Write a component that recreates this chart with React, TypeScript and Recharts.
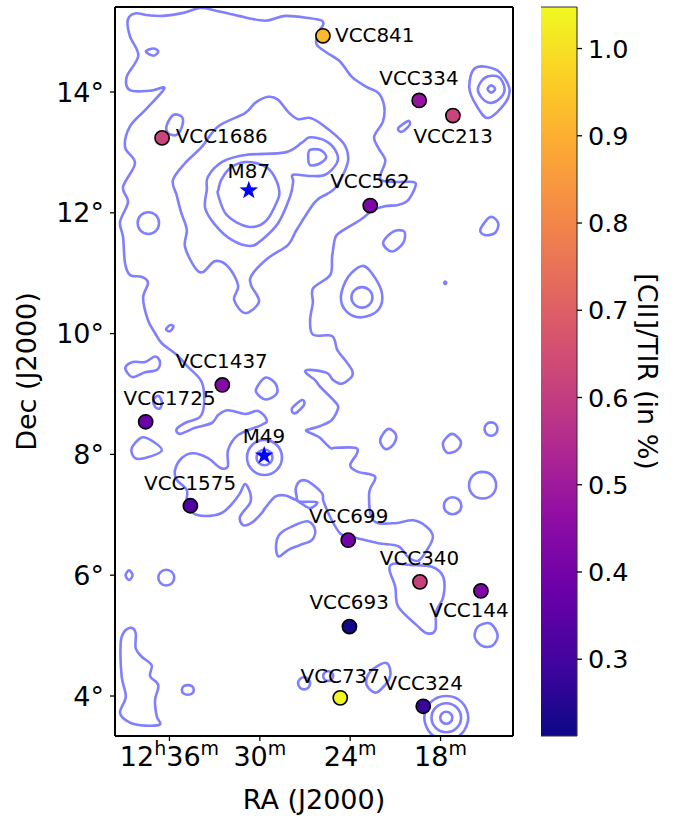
import React from 'react';
import { ComposedChart, XAxis, YAxis, Line, Area, Scatter, Label } from 'recharts';

// ---------- ticks ----------
const raTicks = [36, 30, 24, 18];
const decTicks = [4, 6, 8, 10, 12, 14];
const colorTicks = [0.3, 0.4, 0.5, 0.6, 0.7, 0.8, 0.9, 1.0];

// ---------- galaxies ----------
const galaxyNames = ['VCC841', 'VCC334', 'VCC213', 'VCC1686', 'VCC562', 'VCC1437', 'VCC1725', 'VCC1575', 'VCC699', 'VCC340', 'VCC144', 'VCC693', 'VCC737', 'VCC324'];
const galaxyRa = [25.81, 19.42, 17.18, 36.49, 22.67, 32.49, 37.58, 34.61, 24.13, 19.37, 15.32, 24.05, 24.66, 19.15];
const galaxyDec = [14.93, 13.86, 13.61, 13.24, 12.12, 9.15, 8.54, 7.15, 6.58, 5.89, 5.74, 5.15, 3.97, 3.83];
const galaxyRatio = [0.92, 0.48, 0.62, 0.62, 0.42, 0.44, 0.38, 0.33, 0.4, 0.61, 0.42, 0.225, 1.04, 0.28];

const starNames = ['M87', 'M49'];
const starRa = [30.73, 29.71];
const starDec = [12.37, 7.98];

const labelNames = ['VCC841', 'VCC334', 'VCC213', 'VCC1686', 'M87', 'VCC562', 'VCC1437', 'VCC1725', 'M49', 'VCC1575', 'VCC699', 'VCC340', 'VCC144', 'VCC693', 'VCC737', 'VCC324'];
const labelRa = [22.37, 19.43, 17.16, 32.53, 30.73, 22.69, 32.53, 35.99, 29.73, 34.63, 24.1, 19.4, 16.11, 24.07, 24.66, 19.15];
const labelDec = [14.94, 14.23, 13.27, 13.26, 12.69, 12.51, 9.54, 8.93, 8.3, 7.52, 6.97, 6.28, 5.41, 5.55, 4.33, 4.21];

// ---------- contours, [RA minutes, Dec degrees] ----------
const outer = [[38.77,15.19],[38.29,15.30],[37.40,15.27],[36.41,15.26],[35.08,15.31],[33.97,15.39],[32.97,15.35],[31.42,15.26],[29.65,15.18],[28.32,15.26],[26.66,15.22],[25.88,15.18],[25.80,15.11],[25.99,15.04],[26.21,14.92],[26.21,14.78],[25.55,14.65],[24.66,14.50],[23.89,14.25],[22.89,14.08],[22.12,13.98],[21.74,13.76],[21.83,13.51],[22.41,13.26],[22.12,13.07],[21.67,12.87],[21.96,12.65],[21.94,12.54],[21.01,12.51],[19.81,12.51],[19.68,12.43],[20.15,12.21],[20.81,12.13],[21.67,12.11],[22.47,12.05],[23.34,11.88],[24.66,11.68],[25.00,11.58],[25.20,11.27],[25.33,10.97],[26.46,10.75],[26.48,10.51],[26.66,10.22],[26.46,9.98],[25.20,9.96],[24.86,9.73],[24.33,9.56],[23.89,9.40],[23.89,9.29],[24.55,9.17],[25.13,9.23],[25.55,9.35],[26.66,9.40],[26.99,9.38],[26.86,9.33],[26.33,9.23],[25.99,9.12],[25.00,8.87],[24.80,8.77],[25.22,8.57],[25.99,8.47],[26.66,8.42],[26.92,8.39],[26.33,8.32],[25.99,8.27],[25.33,8.11],[25.00,8.11],[23.67,8.11],[23.54,8.02],[24.00,7.82],[23.47,7.71],[22.34,7.63],[22.74,7.36],[22.47,6.91],[21.14,6.86],[19.81,6.91],[18.91,6.80],[18.51,6.64],[18.82,6.45],[19.48,6.24],[20.15,6.30],[20.81,6.48],[22.14,6.53],[23.67,6.62],[24.13,6.64],[24.66,6.69],[25.22,6.91],[25.77,7.22],[25.88,7.36],[26.77,7.55],[27.32,7.56],[27.61,7.44],[27.56,7.31],[27.39,7.22],[26.21,7.21],[26.66,7.11],[27.26,7.19],[27.66,7.25],[28.32,7.32],[28.98,7.30],[29.65,7.11],[29.87,7.03],[30.53,6.87],[31.11,6.83],[31.31,6.97],[30.64,7.20],[30.64,7.36],[30.98,7.51],[31.31,7.36],[31.78,7.20],[32.53,7.03],[33.63,6.98],[34.43,7.03],[34.85,7.20],[34.85,7.41],[35.52,7.58],[35.63,7.74],[35.18,7.94],[34.43,8.02],[33.44,7.94],[32.64,7.78],[32.13,7.80],[32.11,8.07],[31.44,8.32],[29.87,8.49],[29.54,8.57],[30.11,8.72],[30.98,8.67],[32.11,8.73],[32.77,8.65],[33.19,8.52],[34.30,8.44],[35.30,8.34],[35.52,8.42],[34.97,8.52],[33.97,8.62],[33.70,8.85],[33.86,9.20],[34.77,9.45],[35.52,9.65],[36.51,9.84],[36.96,10.01],[37.42,10.22],[37.75,10.59],[37.42,10.84],[37.84,10.94],[38.62,10.97],[38.95,11.17],[39.08,11.60],[39.28,11.85],[38.75,12.18],[39.08,12.43],[38.29,12.82],[38.95,13.09],[38.62,13.43],[37.62,13.70],[36.34,14.06],[37.29,14.02],[38.62,14.03],[38.84,14.25],[38.07,14.60],[38.62,14.92]];
const virgoMid = [[35.77,12.54],[35.52,12.29],[35.23,12.01],[34.85,11.72],[34.97,11.44],[34.30,11.09],[33.77,11.02],[32.97,11.20],[32.11,11.11],[31.44,10.80],[31.71,10.56],[30.98,10.34],[30.05,10.53],[30.58,10.80],[30.53,10.97],[29.45,11.25],[28.12,11.47],[27.55,11.72],[26.33,12.18],[25.55,12.31],[25.00,12.41],[24.33,12.71],[24.13,12.92],[24.47,13.16],[25.80,13.45],[26.66,13.57],[27.46,13.55],[28.12,13.67],[28.78,13.87],[29.45,13.92],[30.31,13.82],[30.98,13.65],[32.77,13.43],[33.86,13.09],[34.97,12.82]];
const virgoHigh = [[33.52,12.38],[33.44,12.60],[32.44,12.85],[30.86,12.96],[28.32,13.00],[27.21,13.16],[26.66,13.25],[25.55,13.18],[24.89,12.99],[24.89,12.82],[25.66,12.63],[26.66,12.61],[27.79,12.63],[27.79,12.51],[27.99,12.27],[28.78,11.83],[29.87,11.55],[30.64,11.45],[31.86,11.55],[32.97,11.80],[33.63,12.08]];
const virgoCore = [[32.75,12.38],[32.57,12.54],[31.97,12.74],[30.98,12.84],[29.85,12.79],[29.18,12.66],[28.72,12.38],[28.87,12.18],[29.65,11.85],[30.78,11.77],[32.19,11.96],[32.77,12.30]];
const virgoSide = [[26.66,13.04],[25.99,13.04],[25.59,12.93],[25.99,12.82],[26.66,12.79],[26.79,12.93]];
const islandA = [[37.56,14.67],[37.07,14.72],[36.74,14.67],[37.07,14.60]];
const islandB = [[36.18,13.45],[35.74,13.62],[35.18,13.59],[35.14,13.45],[35.52,13.29],[36.09,13.32]];
const islandC = [[20.81,13.40],[20.15,13.52],[20.06,13.45],[20.57,13.34]];
const eastOuter = [[16.09,14.07],[15.69,14.40],[14.25,14.36],[13.44,14.07],[13.70,13.82],[14.83,13.57],[15.58,13.76]];
const eastMid = [[15.52,14.06],[15.03,14.24],[14.15,14.25],[13.75,14.06],[14.03,13.90],[14.70,13.82],[15.25,13.90]];
const eastCore = [[14.88,14.05],[14.63,14.11],[14.38,14.05],[14.63,13.99]];
const islandD = [[38.11,11.83],[37.90,11.96],[37.40,12.01],[36.90,11.96],[36.69,11.83],[36.90,11.70],[37.40,11.65],[37.90,11.70]];
const islandE = [[36.23,10.07],[35.96,10.14],[35.73,10.12],[35.96,10.04]];
const islandF = [[38.91,9.45],[38.42,9.53],[37.62,9.53],[36.96,9.62],[36.63,9.53],[36.83,9.40],[37.62,9.36],[38.42,9.28],[38.82,9.36]];
const islandG = [[21.81,11.50],[21.14,11.69],[20.41,11.69],[20.48,11.50],[21.23,11.36]];
const islandH = [[15.36,11.72],[14.70,11.93],[14.17,11.83],[14.37,11.67],[15.03,11.63]];
const midOuter = [[23.22,11.12],[22.56,11.00],[21.89,10.67],[22.14,10.39],[23.22,10.27],[24.22,10.36],[24.62,10.61],[24.13,10.94]];
const midCore = [[23.92,10.60],[23.71,10.72],[23.22,10.77],[22.73,10.72],[22.52,10.60],[22.73,10.48],[23.22,10.43],[23.71,10.48]];
const speck = [[17.76,10.84],[17.69,10.86],[17.62,10.84],[17.69,10.82]];
const islandI = [[30.25,9.08],[29.65,9.27],[28.98,9.18],[28.87,9.01],[29.54,8.91],[30.09,8.98]];
const islandJ = [[27.87,8.76],[27.21,8.90],[27.06,8.82],[27.66,8.68]];
const islandK = [[37.07,8.90],[36.74,8.97],[36.51,8.87],[36.63,8.76],[36.96,8.79]];
const islandL = [[38.51,8.10],[37.84,8.28],[37.07,8.21],[36.51,8.06],[37.62,7.94],[38.29,7.94]];
const m49Outer = [[30.85,7.95],[30.51,8.155],[29.69,8.24],[28.87,8.155],[28.53,7.95],[28.87,7.745],[29.69,7.66],[30.51,7.745]];
const m49Core = [[30.22,7.95],[30.07,8.04],[29.69,8.08],[29.31,8.04],[29.16,7.95],[29.31,7.86],[29.69,7.82],[30.07,7.86]];
const islandM = [[28.76,6.31],[28.92,6.50],[28.65,6.69],[27.66,6.83],[26.77,6.89],[26.33,6.75],[26.55,6.58],[27.32,6.50],[28.10,6.42]];
const islandN = [[22.01,8.24],[21.48,8.42],[20.95,8.32],[21.14,8.16],[21.67,8.09]];
const islandO = [[17.84,8.19],[17.24,8.34],[16.65,8.21],[16.91,8.07],[17.57,8.03]];
const islandP = [[15.08,8.42],[14.95,8.50],[14.65,8.53],[14.35,8.50],[14.22,8.42],[14.35,8.34],[14.65,8.31],[14.95,8.34]];
const islandQ = [[16.11,7.49],[15.84,7.65],[15.21,7.71],[14.58,7.65],[14.31,7.49],[14.58,7.33],[15.21,7.27],[15.84,7.33]];
const islandR = [[17.78,7.15],[17.61,7.25],[17.20,7.29],[16.79,7.25],[16.62,7.15],[16.79,7.05],[17.20,7.01],[17.61,7.05]];
const southPatch = [[21.39,6.09],[21.14,6.19],[20.01,6.17],[18.57,6.14],[17.82,5.97],[17.82,5.64],[18.29,5.40],[18.35,5.09],[18.91,5.04],[19.57,5.17],[20.81,5.48],[21.01,5.81]];
const islandS = [[15.74,5.01],[15.47,5.16],[14.70,5.20],[14.21,5.01],[14.52,4.84],[15.14,4.82],[15.58,4.90]];
const islandT = [[38.91,6.00],[38.68,6.08],[38.45,6.00],[38.68,5.92]];
const islandU = [[36.74,5.96],[36.59,6.05],[36.21,6.09],[35.83,6.05],[35.68,5.96],[35.83,5.87],[36.21,5.83],[36.59,5.87]];
const southWest = [[38.55,5.13],[38.24,5.04],[38.24,4.79],[37.84,4.65],[37.18,4.51],[37.29,4.33],[36.74,4.18],[36.96,3.93],[36.84,3.66],[36.63,3.53],[37.62,3.51],[38.62,3.56],[39.28,3.72],[38.90,3.99],[39.17,4.32],[39.24,4.87],[39.02,5.06]];
const islandV = [[35.18,4.10],[35.06,4.16],[34.78,4.18],[34.50,4.16],[34.38,4.10],[34.50,4.04],[34.78,4.02],[35.06,4.04]];
const islandW = [[27.46,4.21],[27.34,4.28],[27.06,4.31],[26.78,4.28],[26.66,4.21],[26.78,4.14],[27.06,4.11],[27.34,4.14]];
const islandX = [[25.79,4.33],[25.69,4.39],[25.46,4.41],[25.23,4.39],[25.13,4.33],[25.23,4.27],[25.46,4.25],[25.69,4.27]];
const islandY = [[22.94,4.26],[22.56,4.43],[21.67,4.55],[21.34,4.43],[21.46,4.26],[22.23,4.06],[22.78,4.13]];
const ringOuter = [[19.08,3.64],[18.65,3.90],[17.62,4.00],[16.59,3.90],[16.16,3.64],[16.59,3.38],[17.62,3.28],[18.65,3.38]];
const ringMid = [[18.60,3.64],[18.31,3.81],[17.62,3.88],[16.93,3.81],[16.64,3.64],[16.93,3.47],[17.62,3.40],[18.31,3.47]];
const ringCore = [[18.02,3.64],[17.90,3.71],[17.62,3.74],[17.34,3.71],[17.22,3.64],[17.34,3.57],[17.62,3.54],[17.90,3.57]];

const contours = [outer, virgoMid, virgoHigh, virgoCore, virgoSide, islandA, islandB, islandC, eastOuter, eastMid, eastCore, islandD, islandE, islandF, islandG, islandH, midOuter, midCore, speck, islandI, islandJ, islandK, islandL, m49Outer, m49Core, islandM, islandN, islandO, islandP, islandQ, islandR, southPatch, islandS, islandT, islandU, southWest, islandV, islandW, islandX, islandY, ringOuter, ringMid, ringCore];

// ---------- colormap (plasma) ----------
const plasmaStops = ['#0d0887', '#41049d', '#6a00a8', '#8f0da4', '#b12a90', '#cc4778', '#e16462', '#f2844b', '#fca636', '#fcce25', '#f0f921'];
const colorMin = 0.212;
const colorMax = 1.0476;
const colorBarRows = [
  { pos: 0, top: colorMax },
  { pos: 1, top: colorMax },
];

function hexToRgb(h: string) {
  return [1, 3, 5].map((i) => parseInt(h.slice(i, i + 2), 16));
}
function plasma(v: number) {
  const t = Math.min(1, Math.max(0, (v - colorMin) / (colorMax - colorMin))) * (plasmaStops.length - 1);
  const i = Math.min(plasmaStops.length - 2, Math.floor(t));
  const a = hexToRgb(plasmaStops[i]);
  const b = hexToRgb(plasmaStops[i + 1]);
  const c = a.map((x, k) => Math.round(x + (b[k] - x) * (t - i)));
  return `rgb(${c[0]},${c[1]},${c[2]})`;
}

// ---------- table rows ----------
const galaxyRows = galaxyNames.map((name, i) => ({ name, ra: galaxyRa[i], dec: galaxyDec[i], ratio: galaxyRatio[i] }));
const starRows = starNames.map((name, i) => ({ name, ra: starRa[i], dec: starDec[i] }));
const labelRows = labelNames.map((name, i) => ({ name, ra: labelRa[i], dec: labelDec[i] }));
const closed = (c: number[][]) => [...c, c[0]].map(([ra, dec]) => ({ ra, dec }));

// Smooth closed curve through the scaled contour vertices
function smoothCurve(context: any) {
  let pts: number[][] = [];
  return {
    areaStart() {},
    areaEnd() {},
    lineStart() {
      pts = [];
    },
    lineEnd() {
      const n = pts.length - 1;
      if (n < 2) return;
      const at = (i: number) => pts[((i % n) + n) % n];
      context.moveTo(pts[0][0], pts[0][1]);
      for (let i = 0; i < n; i++) {
        const p0 = at(i - 1);
        const p1 = at(i);
        const p2 = at(i + 1);
        const p3 = at(i + 2);
        context.bezierCurveTo(
          p1[0] + (p2[0] - p0[0]) / 6,
          p1[1] + (p2[1] - p0[1]) / 6,
          p2[0] - (p3[0] - p1[0]) / 6,
          p2[1] - (p3[1] - p1[1]) / 6,
          p2[0],
          p2[1],
        );
      }
      context.closePath();
    },
    point(x: number, y: number) {
      pts.push([+x, +y]);
    },
  };
}

const FONT = '"DejaVu Sans", sans-serif';
const TICK_SIZE = 27;
const SUP_SIZE = 19;
const AXIS_SIZE = 27;
const BAR_TICK_SIZE = 25.5;
const LABEL_SIZE = 19.9;
const FRAME = { stroke: '#000', strokeWidth: 2 };
const TICK_LINE = { stroke: '#000', strokeWidth: 1.3 };
const BAR_EDGE = { stroke: '#333', strokeWidth: 1.1 };

function RaTick(props: any) {
  const { x, y, payload } = props;
  const isFirst = payload.value === raTicks[0];
  return (
    <text x={x} y={y + 24.5} textAnchor="middle" fontSize={TICK_SIZE} fontFamily={FONT} fill="#000">
      {isFirst && <tspan>12</tspan>}
      {isFirst && <tspan dy={-11} fontSize={SUP_SIZE}>h</tspan>}
      <tspan dy={isFirst ? 11 : 0}>{payload.value}</tspan>
      <tspan dy={-11} fontSize={SUP_SIZE}>m</tspan>
    </text>
  );
}

function GalaxyDot(props: any) {
  const { cx, cy, payload } = props;
  return <circle cx={cx} cy={cy} r={7.1} fill={plasma(payload.ratio)} stroke="#000" strokeWidth={1.6} />;
}

function StarMark(props: any) {
  const { cx, cy } = props;
  const pts: string[] = [];
  for (let i = 0; i < 10; i++) {
    const r = i % 2 === 0 ? 9.8 : 3.9;
    const a = (i * Math.PI) / 5 - Math.PI / 2;
    pts.push(`${cx + r * Math.cos(a)},${cy + r * Math.sin(a)}`);
  }
  return <polygon points={pts.join(' ')} fill="#0000ff" />;
}

function NameLabel(props: any) {
  const { cx, cy, payload } = props;
  return (
    <text x={cx} y={cy} textAnchor="middle" dominantBaseline="central" fontSize={LABEL_SIZE} fontFamily={FONT} fill="#000">
      {payload.name}
    </text>
  );
}

export default function App() {
  return (
    <div style={{ position: 'absolute', left: 0, top: 0, width: 682, height: 819, background: '#fff', fontFamily: FONT }}>
      <div style={{ position: 'absolute', left: 0, top: 0 }}>
        <ComposedChart width={682} height={819} margin={{ top: 0, right: 0, bottom: 0, left: 0 }} data={[]}>
          <XAxis
            xAxisId="b"
            dataKey="ra"
            type="number"
            orientation="bottom"
            reversed
            allowDataOverflow
            domain={[13.19, 39.615]}
            ticks={raTicks}
            interval={0}
            height={83}
            tickSize={5}
            tickMargin={0}
            axisLine={FRAME}
            tickLine={TICK_LINE}
            tick={<RaTick />}
          >
            <Label value="RA (J2000)" position="insideBottom" offset={10} fontSize={AXIS_SIZE} fill="#000" fontFamily={FONT} />
          </XAxis>
          <XAxis
            xAxisId="t"
            type="number"
            orientation="top"
            reversed
            allowDataOverflow
            domain={[12.76, 40.03]}
            ticks={raTicks}
            interval={0}
            height={7}
            tickSize={5}
            axisLine={FRAME}
            tickLine={TICK_LINE}
            tick={false}
          />
          <YAxis
            yAxisId="l"
            dataKey="dec"
            type="number"
            orientation="left"
            allowDataOverflow
            domain={[3.338, 15.407]}
            ticks={decTicks}
            interval={0}
            width={115}
            tickSize={5}
            tickMargin={6}
            axisLine={FRAME}
            tickLine={TICK_LINE}
            tick={{ fontSize: TICK_SIZE, fill: '#000', fontFamily: FONT }}
            tickFormatter={(v: number) => `${v}°`}
          >
            <Label value="Dec (J2000)" angle={-90} position="insideLeft" offset={26} fontSize={AXIS_SIZE} fill="#000" fontFamily={FONT} style={{ textAnchor: 'middle' }} />
          </YAxis>
          <YAxis
            yAxisId="r"
            type="number"
            orientation="right"
            allowDataOverflow
            domain={[3.338, 15.407]}
            ticks={decTicks}
            interval={0}
            width={169}
            tickSize={5}
            axisLine={FRAME}
            tickLine={TICK_LINE}
            tick={false}
          />
          <Scatter xAxisId="b" yAxisId="l" data={galaxyRows} shape={<GalaxyDot />} isAnimationActive={false} legendType="none" />
          {contours.map((c, i) => (
            <Line
              key={i}
              xAxisId="b"
              yAxisId="l"
              data={closed(c)}
              dataKey="dec"
              type={smoothCurve as any}
              stroke="#0000ff"
              strokeOpacity={0.5}
              strokeWidth={2.6}
              dot={false}
              activeDot={false}
              isAnimationActive={false}
              legendType="none"
            />
          ))}
          <Scatter xAxisId="b" yAxisId="l" data={starRows} shape={<StarMark />} isAnimationActive={false} legendType="none" />
          <Scatter xAxisId="b" yAxisId="l" data={labelRows} shape={<NameLabel />} isAnimationActive={false} legendType="none" />
        </ComposedChart>
      </div>
      <div style={{ position: 'absolute', left: 541, top: 0 }}>
        <ComposedChart width={141} height={819} margin={{ top: 0, right: 0, bottom: 0, left: 0 }} data={colorBarRows}>
          <defs>
            <linearGradient id="plasmaBar" x1="0" y1="1" x2="0" y2="0">
              {plasmaStops.map((c, i) => (
                <stop key={c} offset={i / (plasmaStops.length - 1)} stopColor={c} />
              ))}
            </linearGradient>
          </defs>
          <XAxis xAxisId="c" dataKey="pos" type="number" domain={[0, 1]} allowDataOverflow height={83} orientation="bottom" ticks={[]} tick={false} axisLine={BAR_EDGE} tickLine={false} />
          <XAxis xAxisId="c2" type="number" domain={[0, 1]} allowDataOverflow height={7} orientation="top" ticks={[]} tick={false} axisLine={BAR_EDGE} tickLine={false} />
          <YAxis yAxisId="c2" type="number" domain={[colorMin, colorMax]} allowDataOverflow width={0} orientation="left" ticks={[]} tick={false} axisLine={BAR_EDGE} tickLine={false} />
          <YAxis
            yAxisId="c"
            type="number"
            orientation="right"
            domain={[colorMin, colorMax]}
            allowDataOverflow
            ticks={colorTicks}
            interval={0}
            width={105}
            tickSize={5}
            tickMargin={6}
            axisLine={BAR_EDGE}
            tickLine={TICK_LINE}
            tick={{ fontSize: BAR_TICK_SIZE, fill: '#000', fontFamily: FONT, textAnchor: 'start' }}
            tickFormatter={(v: number) => v.toFixed(1)}
          >
            <Label value="[CII]/TIR (in %)" angle={90} position="insideRight" offset={34} fontSize={AXIS_SIZE} fill="#000" fontFamily={FONT} style={{ textAnchor: 'middle' }} />
          </YAxis>
          <Area
            xAxisId="c"
            yAxisId="c"
            dataKey="top"
            type="linear"
            baseValue={colorMin}
            fill="url(#plasmaBar)"
            fillOpacity={1}
            stroke="none"
            dot={false}
            activeDot={false}
            isAnimationActive={false}
            legendType="none"
          />
        </ComposedChart>
      </div>
    </div>
  );
}
